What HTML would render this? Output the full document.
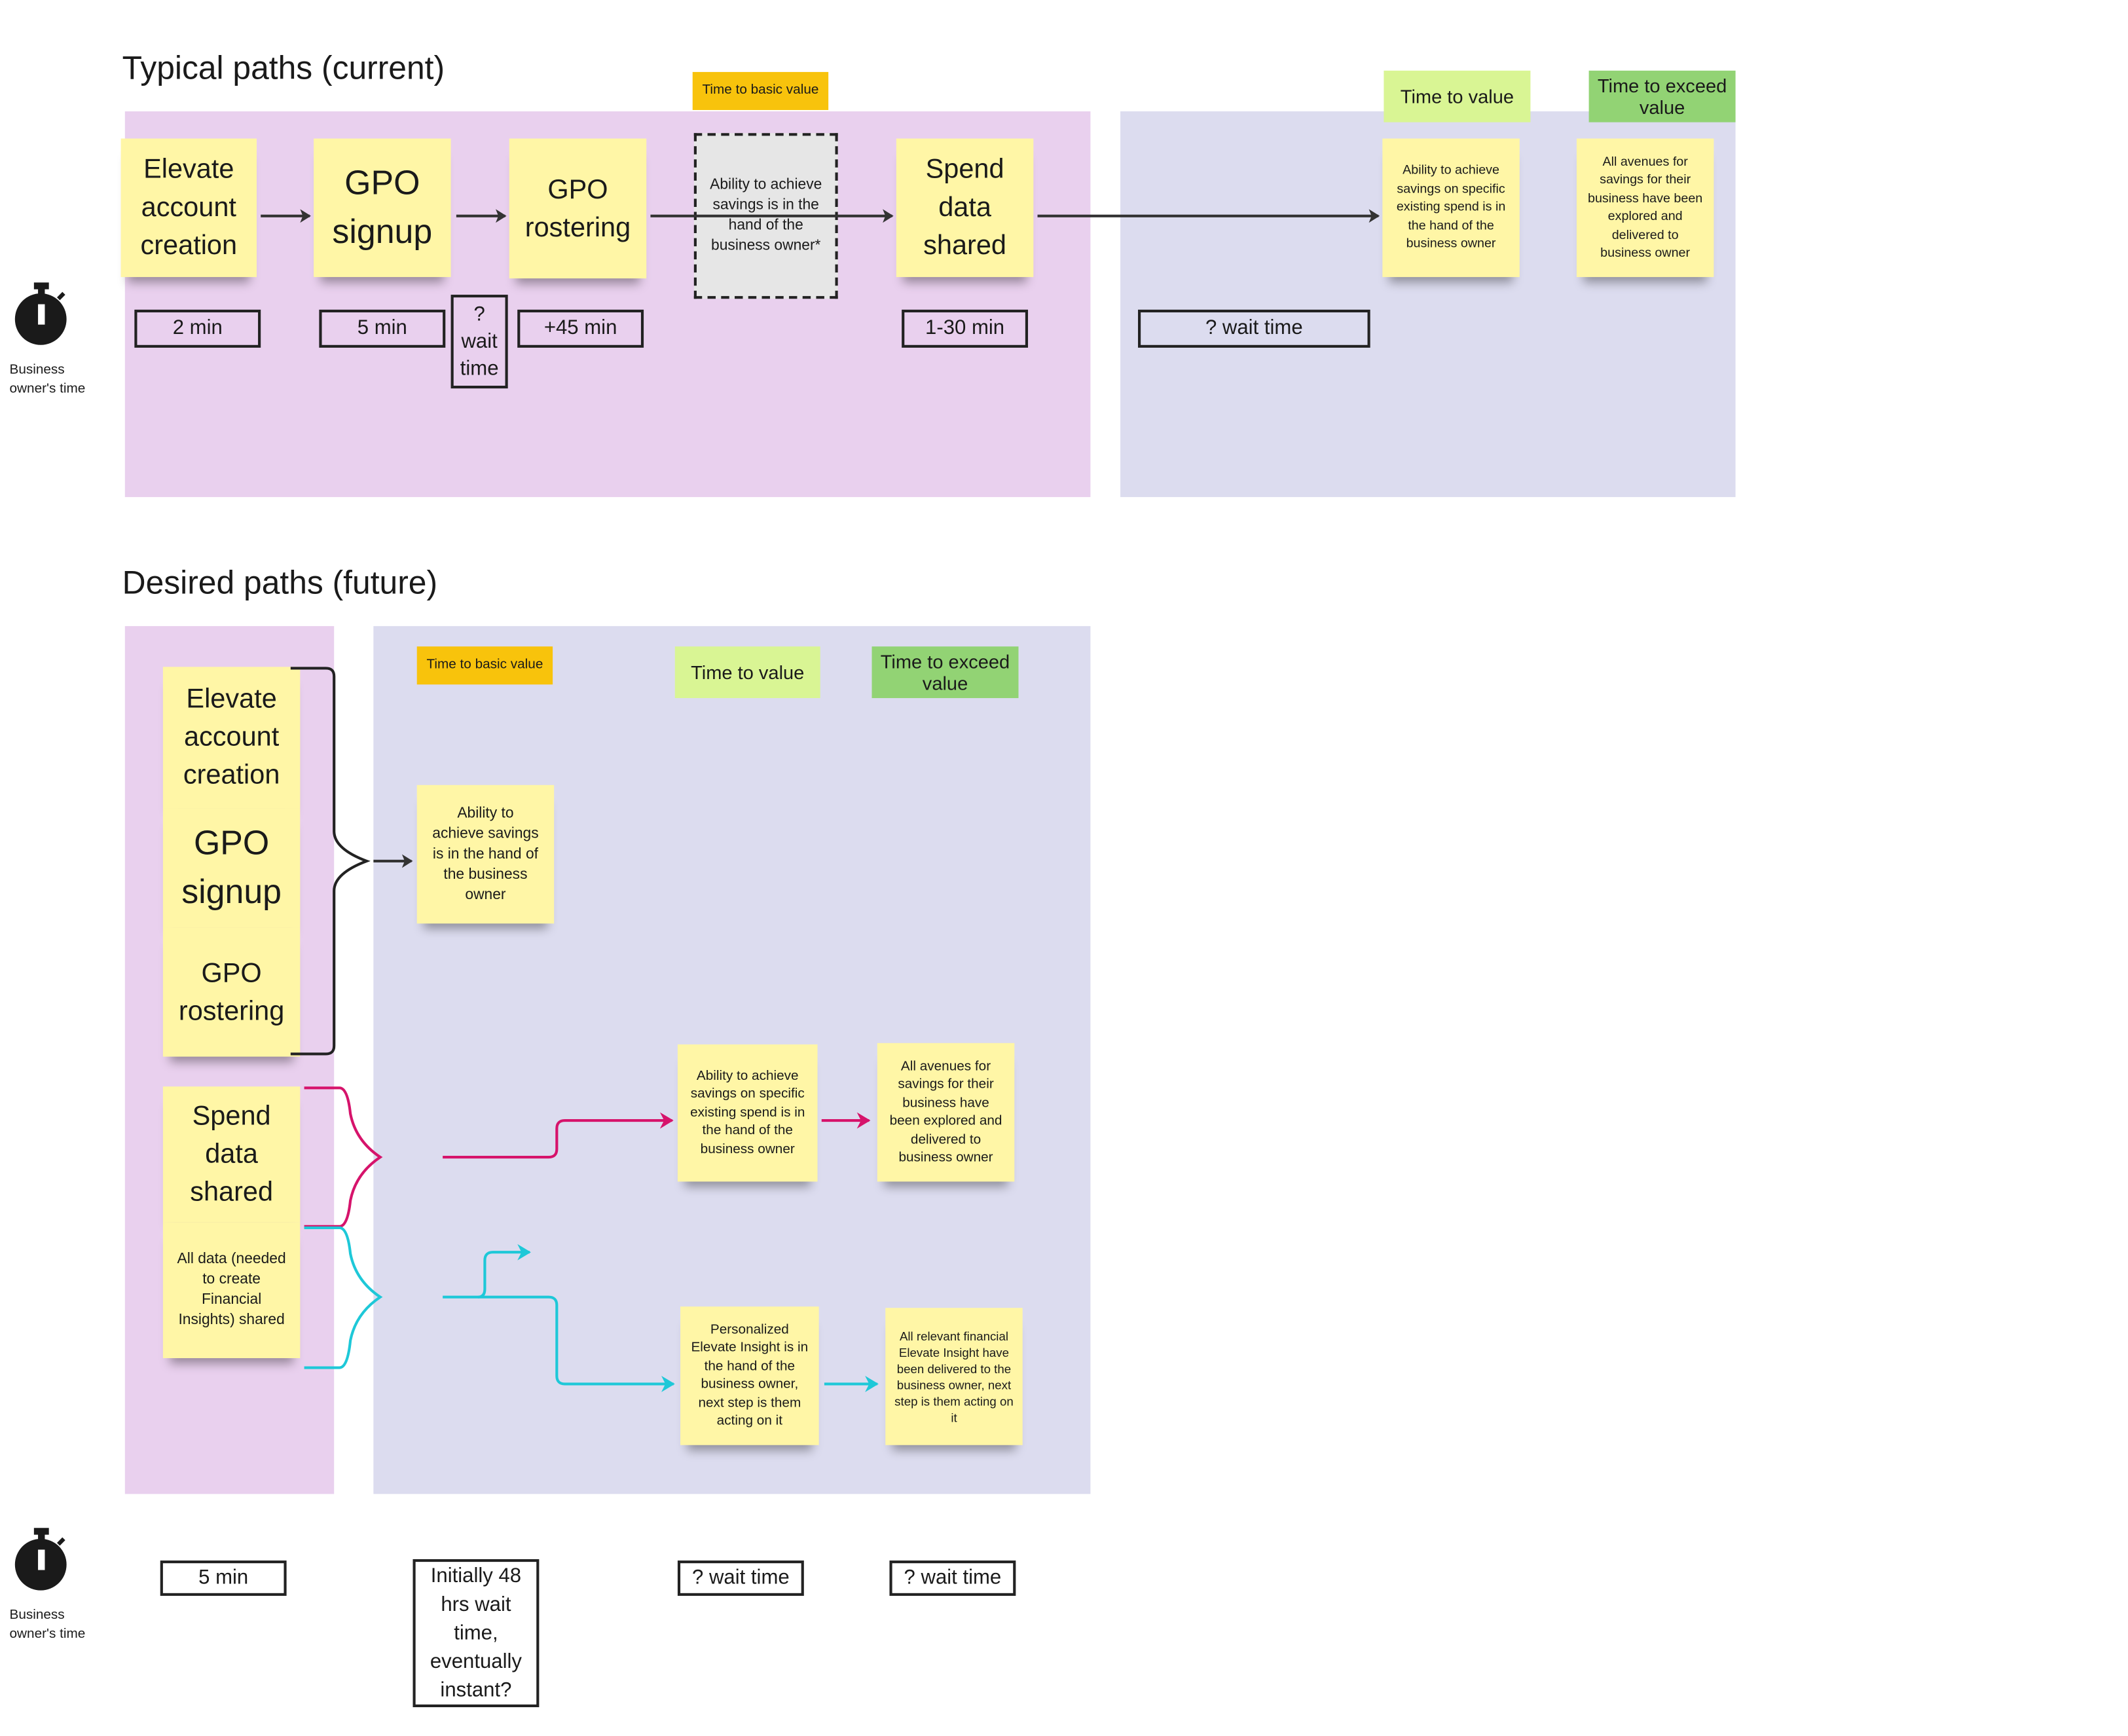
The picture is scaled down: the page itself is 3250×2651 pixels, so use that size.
<!DOCTYPE html>
<html><head><meta charset="utf-8"><style>
html,body{margin:0;padding:0;background:#fff;}
body{width:3250px;height:2650px;overflow:hidden;position:relative;}
#c{position:absolute;left:0;top:0;width:1567px;height:1278px;transform:scale(2.074);transform-origin:0 0;font-family:"Liberation Sans",sans-serif;color:#1a1a1a;}
.a{position:absolute;box-sizing:border-box;}
.bg{position:absolute;}
.st{position:absolute;box-sizing:border-box;background:#fff6a6;display:flex;align-items:center;justify-content:center;text-align:center;box-shadow:0 9px 7px -5px rgba(0,0,0,.35);line-height:1.25;}
.tg{position:absolute;box-sizing:border-box;display:flex;align-items:center;justify-content:center;text-align:center;line-height:1.15;}
.bx{position:absolute;box-sizing:border-box;border:2px solid #222;background:transparent;display:flex;align-items:center;justify-content:center;text-align:center;font-size:15px;line-height:1.35;}
.h{position:absolute;font-size:24px;}
.lbl{position:absolute;font-size:10px;line-height:14px;}
svg{position:absolute;left:0;top:0;}
</style></head><body><div id="c">
<div class="h" style="left:90px;top:37px;">Typical paths (current)</div>
<div class="bg" style="left:92px;top:82px;width:711px;height:284px;background:#e9d0ee;"></div>
<div class="bg" style="left:825px;top:82px;width:453px;height:284px;background:#dcdcef;"></div>
<div class="tg" style="left:510px;top:53px;width:100px;height:28px;background:#f8c30c;font-size:10px;">Time to basic value</div>
<div class="tg" style="left:1019px;top:52px;width:108px;height:38px;background:#d9f594;font-size:14px;">Time to value</div>
<div class="tg" style="left:1170px;top:52px;width:108px;height:38px;background:#92d374;font-size:14px;">Time to exceed value</div>

<div class="st" style="left:89px;top:102px;width:100px;height:102px;font-size:20px;line-height:28px;">Elevate account creation</div>
<div class="st" style="left:231px;top:102px;width:101px;height:102px;font-size:25px;line-height:36px;">GPO signup</div>
<div class="st" style="left:375px;top:102px;width:101px;height:103px;font-size:20px;line-height:28px;">GPO rostering</div>
<div class="a" style="left:511px;top:98px;width:106px;height:122px;background:#e6e6e6;border:2px dashed #222;display:flex;align-items:center;justify-content:center;text-align:center;font-size:11px;line-height:15px;padding:0 6px;">Ability to achieve savings is in the hand of the business owner*</div>
<div class="st" style="left:660px;top:102px;width:101px;height:102px;font-size:20px;line-height:28px;">Spend data shared</div>
<div class="st" style="left:1018px;top:102px;width:101px;height:102px;font-size:9.5px;line-height:13.5px;padding:4px;">Ability to achieve savings on specific existing spend is in the hand of the business owner</div>
<div class="st" style="left:1161px;top:102px;width:101px;height:102px;font-size:9.5px;line-height:13.5px;padding:4px 8px;">All avenues for savings for their business have been explored and delivered to business owner</div>

<div class="bx" style="left:99px;top:228px;width:93px;height:28px;">2 min</div>
<div class="bx" style="left:235px;top:228px;width:93px;height:28px;">5 min</div>
<div class="bx" style="left:332px;top:217px;width:42px;height:69px;line-height:20px;">? wait time</div>
<div class="bx" style="left:381px;top:228px;width:93px;height:28px;">+45 min</div>
<div class="bx" style="left:664px;top:228px;width:93px;height:28px;">1-30 min</div>
<div class="bx" style="left:838px;top:228px;width:171px;height:28px;">? wait time</div>
<div class="lbl" style="left:7px;top:266px;">Business<br>owner's time</div>
<div class="lbl" style="left:7px;top:1183px;">Business<br>owner's time</div>

<div class="h" style="left:90px;top:416px;">Desired paths (future)</div>
<div class="bg" style="left:92px;top:461px;width:154px;height:639px;background:#e9d0ee;"></div>
<div class="bg" style="left:275px;top:461px;width:528px;height:639px;background:#dcdcef;"></div>
<div class="tg" style="left:307px;top:476px;width:100px;height:28px;background:#f8c30c;font-size:10px;">Time to basic value</div>
<div class="tg" style="left:497px;top:476px;width:107px;height:38px;background:#d9f594;font-size:14px;">Time to value</div>
<div class="tg" style="left:642px;top:476px;width:108px;height:38px;background:#92d374;font-size:14px;">Time to exceed value</div>

<div class="st" style="left:120px;top:491px;width:101px;height:104px;font-size:20px;line-height:28px;">Elevate account creation</div>
<div class="st" style="left:120px;top:595px;width:101px;height:88px;font-size:25px;line-height:36px;">GPO signup</div>
<div class="st" style="left:120px;top:683px;width:101px;height:95px;font-size:20px;line-height:28px;">GPO rostering</div>
<div class="st" style="left:120px;top:800px;width:101px;height:100px;font-size:20px;line-height:28px;">Spend data shared</div>
<div class="st" style="left:120px;top:900px;width:101px;height:100px;font-size:11px;line-height:15px;padding:3px 8px;">All data (needed to create Financial Insights) shared</div>
<div class="st" style="left:307px;top:578px;width:101px;height:102px;font-size:11px;line-height:15px;padding:4px 10px;">Ability to achieve savings is in the hand of the business owner</div>
<div class="st" style="left:499px;top:769px;width:103px;height:101px;font-size:10px;line-height:13.5px;padding:4px;">Ability to achieve savings on specific existing spend is in the hand of the business owner</div>
<div class="st" style="left:646px;top:768px;width:101px;height:102px;font-size:10px;line-height:13.5px;padding:4px 8px;">All avenues for savings for their business have been explored and delivered to business owner</div>
<div class="st" style="left:501px;top:962px;width:102px;height:102px;font-size:10px;line-height:13.5px;padding:4px 6px;">Personalized Elevate Insight is in the hand of the business owner, next step is them acting on it</div>
<div class="st" style="left:652px;top:963px;width:101px;height:101px;font-size:9px;line-height:12px;padding:4px 6px;">All relevant financial Elevate Insight have been delivered to the business owner, next step is them acting on it</div>

<div class="bx" style="left:118px;top:1149px;width:93px;height:26px;">5 min</div>
<div class="bx" style="left:304px;top:1148px;width:93px;height:109px;line-height:21px;padding:0 4px;">Initially 48 hrs wait time, eventually instant?</div>
<div class="bx" style="left:499px;top:1149px;width:93px;height:26px;">? wait time</div>
<div class="bx" style="left:655px;top:1149px;width:93px;height:26px;">? wait time</div>

<svg width="1567" height="1278" viewBox="0 0 1567 1278">
<defs>
<marker id="ak" markerWidth="8" markerHeight="10" refX="7" refY="5" orient="auto" markerUnits="userSpaceOnUse"><path d="M0,0 L8,5 L0,10 L2,5 Z" fill="#333"/></marker>
<marker id="am" markerWidth="10" markerHeight="12" refX="9" refY="6" orient="auto" markerUnits="userSpaceOnUse"><path d="M0,0 L10,6 L0,12 L3,6 Z" fill="#d6136b"/></marker>
<marker id="ac" markerWidth="10" markerHeight="12" refX="9" refY="6" orient="auto" markerUnits="userSpaceOnUse"><path d="M0,0 L10,6 L0,12 L3,6 Z" fill="#1ec8d8"/></marker>
</defs>
<g stroke="#333" stroke-width="2" fill="none">
<line x1="192" y1="159" x2="228" y2="159" marker-end="url(#ak)"/>
<line x1="336" y1="159" x2="372" y2="159" marker-end="url(#ak)"/>
<line x1="479" y1="159" x2="657" y2="159" marker-end="url(#ak)"/>
<line x1="764" y1="159" x2="1015" y2="159" marker-end="url(#ak)"/>
<line x1="275" y1="634" x2="303" y2="634" marker-end="url(#ak)"/>
</g>
<path d="M214,492 H240 Q246,492 246,498 V612 Q246,625 270,634 Q246,643 246,656 V770 Q246,776 240,776 H214" stroke="#222" stroke-width="2" fill="none"/>
<path d="M224,801 H250 Q256,801 258,820 Q262,840 280,852 Q262,864 258,884 Q256,903 250,903 H224" stroke="#d6136b" stroke-width="2" fill="none"/>
<path d="M326,852 H404 Q410,852 410,846 V831 Q410,825 416,825 H495" stroke="#d6136b" stroke-width="2" fill="none" marker-end="url(#am)"/>
<line x1="605" y1="825" x2="640" y2="825" stroke="#d6136b" stroke-width="2" marker-end="url(#am)"/>
<path d="M224,904 H250 Q256,904 258,923 Q262,943 280,955 Q262,967 258,987 Q256,1007 250,1007 H224" stroke="#1ec8d8" stroke-width="2" fill="none"/>
<path d="M326,955 H404 Q410,955 410,961 V1013 Q410,1019 416,1019 H496" stroke="#1ec8d8" stroke-width="2" fill="none" marker-end="url(#ac)"/>
<path d="M352,955 Q357,955 357,949 V928 Q357,922 363,922 H390" stroke="#1ec8d8" stroke-width="2" fill="none" marker-end="url(#ac)"/>
<line x1="607" y1="1019" x2="646" y2="1019" stroke="#1ec8d8" stroke-width="2" marker-end="url(#ac)"/>
<g fill="#1a1a1a">
<rect x="25" y="208" width="11" height="5"/><rect x="28" y="211" width="5" height="6"/>
<circle cx="30" cy="235" r="19"/>
<rect x="25" y="1125" width="11" height="5"/><rect x="28" y="1128" width="5" height="6"/>
<circle cx="30" cy="1152" r="19"/>
</g>
<g fill="#fff"><rect x="28" y="224" width="5" height="15"/><rect x="28" y="1141" width="5" height="15"/></g>
<g stroke="#1a1a1a" stroke-width="3"><line x1="43" y1="220" x2="47" y2="216"/><line x1="43" y1="1137" x2="47" y2="1133"/></g>
</svg>
</div></body></html>
